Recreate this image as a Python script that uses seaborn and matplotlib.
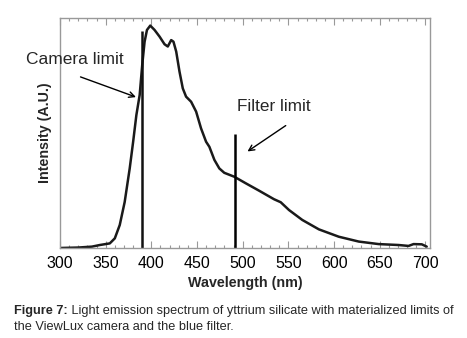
import numpy as np
import matplotlib
matplotlib.use("Agg")
import matplotlib.pyplot as plt
from matplotlib.ticker import MultipleLocator
import seaborn as sns
import pandas as pd

# emission spectrum (normalised intensity)
wavelength = [300, 320, 335, 343.6, 354.5, 360, 365.4, 370.8, 376.3, 380,
              383.6, 387.2, 390, 392.6, 395.2, 398.8, 403.5, 409, 414.4, 418,
              421.7, 424.2, 427.2, 430.8, 434.4, 438, 443.5, 449, 454.4, 459.9,
              463.5, 469, 474.4, 479.8, 490.7, 503.5, 518, 534.3, 541.6, 550.7,
              565.2, 583.4, 605.2, 627, 648.8, 670.6, 681.5, 687, 696, 701.4]
intensity = [0.0, 0.002, 0.006, 0.013, 0.02, 0.042, 0.1, 0.2, 0.346, 0.46,
             0.578, 0.665, 0.796, 0.897, 0.948, 0.967, 0.948, 0.919, 0.886,
             0.876, 0.904, 0.897, 0.854, 0.767, 0.694, 0.658, 0.636, 0.593,
             0.52, 0.462, 0.44, 0.383, 0.346, 0.327, 0.31, 0.281, 0.249, 0.212,
             0.199, 0.165, 0.122, 0.081, 0.049, 0.028, 0.017, 0.013, 0.009,
             0.017, 0.016, 0.006]

camera_limit = 390
camera_top = 0.942
filter_limit = 492
filter_top = 0.497

df = pd.DataFrame({"Wavelength": wavelength, "Intensity": intensity})

sns.set_style("white")
plt.rcParams["font.family"] = ["Liberation Sans", "DejaVu Sans"]

fig = plt.figure(figsize=(4.67, 3.38), dpi=100)
ax = fig.add_axes([60 / 467, 1 - 248 / 338, 370 / 467, 230 / 338])

sns.lineplot(data=df, x="Wavelength", y="Intensity", ax=ax,
             color="#1a1a1a", linewidth=1.8)

ax.vlines(camera_limit, 0, camera_top, color="#111111", linewidth=1.8)
ax.vlines(filter_limit, 0, filter_top, color="black", linewidth=1.8)

ax.annotate("", xy=(386, 0.652), xytext=(319.6, 0.748),
            arrowprops=dict(arrowstyle="->", color="black", lw=1.0),
            annotation_clip=False)
ax.annotate("", xy=(502.7, 0.413), xytext=(549.6, 0.539),
            arrowprops=dict(arrowstyle="->", color="black", lw=1.0))
ax.text(263, 0.82, "Camera limit", fontsize=12.5, va="center", ha="left",
        clip_on=False)
ax.text(494, 0.617, "Filter limit", fontsize=12.3, va="center", ha="left")

ax.set_xlim(300, 705)
ax.set_ylim(0, 1.0)
ax.xaxis.set_major_locator(MultipleLocator(50))
ax.xaxis.set_minor_locator(MultipleLocator(10))
ax.set_yticks([])
ax.tick_params(axis="x", which="both", direction="in", top=True, bottom=True,
               colors="#999999", labelcolor="black", labelsize=11.5, pad=6)
ax.tick_params(axis="x", which="major", length=5, width=0.8)
ax.tick_params(axis="x", which="minor", length=2.5, width=0.8)
for s in ax.spines.values():
    s.set_color("#999999")
    s.set_linewidth(1.0)

ax.set_xlabel("Wavelength (nm)", fontsize=10.3, fontweight="bold", labelpad=3)
ax.set_ylabel("Intensity (A.U.)", fontsize=10.3, fontweight="bold", labelpad=6)

cap = fig.text(14 / 467, 1 - 314 / 338, "Figure 7:", fontsize=9.15,
               fontweight="bold", va="baseline", ha="left")
fig.text(14 / 467, 1 - 330 / 338, "the ViewLux camera and the blue filter.",
         fontsize=9.15, va="baseline", ha="left")
ax.annotate(" Light emission spectrum of yttrium silicate with materialized limits of",
            xy=(1, 0), xycoords=cap, va="bottom", ha="left", fontsize=9.15,
            annotation_clip=False)

fig.savefig("out.png", dpi=100)
